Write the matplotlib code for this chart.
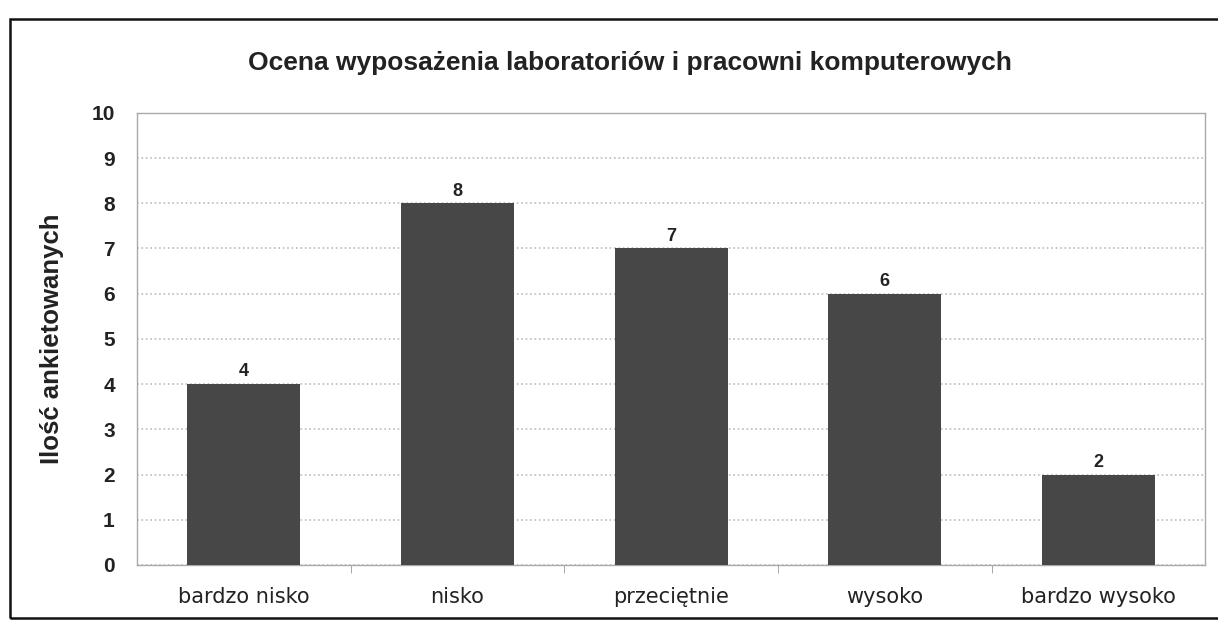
import matplotlib.pyplot as plt
from matplotlib.patches import Rectangle

categories = ["bardzo nisko", "nisko", "przeciętnie", "wysoko", "bardzo wysoko"]
counts = [4, 8, 7, 6, 2]

title = "Ocena wyposażenia laboratoriów i pracowni komputerowych"
ylabel = "Ilość ankietowanych"

narrow = ["Liberation Sans Narrow", "Liberation Sans", "DejaVu Sans"]

fig = plt.figure(figsize=(12.18, 6.27), dpi=100)
ax = fig.add_axes([0.1125, 0.099, 0.877, 0.721])

x = range(len(categories))
bars = ax.bar(x, counts, width=0.53, color="#474747", zorder=3)

for b, v in zip(bars, counts):
    ax.text(b.get_x() + b.get_width() / 2, v + 0.08, str(v), ha="center", va="bottom",
            fontsize=13, fontweight="bold", family=narrow, color="#222222")

ax.set_xlim(-0.5, len(categories) - 0.5)
ax.set_ylim(0, 10)
ax.set_yticks(range(0, 11))
ax.set_yticklabels([str(i) for i in range(0, 11)], fontsize=15, fontweight="bold",
                   family=narrow, color="#222222")
ax.set_xticks(list(x))
ax.set_xticklabels(categories, fontsize=15, family=["Verdana", "DejaVu Sans"], color="#222222")
ax.tick_params(axis="x", length=0, pad=16)
ax.tick_params(axis="y", length=0, pad=16)

# category boundary ticks
ax.set_xticks([i + 0.5 for i in range(len(categories) - 1)], minor=True)
ax.tick_params(axis="x", which="minor", length=6, color="#999999")

ax.grid(axis="y", color="#bbbbbb", linestyle=":", linewidth=1.2, zorder=0)
for s in ax.spines.values():
    s.set_color("#aaaaaa")
    s.set_linewidth(1.0)

ax.set_ylabel(ylabel, fontsize=18.5, fontweight="bold", family=narrow, labelpad=20, color="#222222")
fig.text(0.517, 0.9, title, ha="center", va="center", fontsize=19, fontweight="bold",
         family=narrow, color="#222222")

# outer frame of the pasted chart
fig.patches.append(Rectangle((0.008, 0.015), 1.2, 0.955, transform=fig.transFigure,
                             fill=False, edgecolor="#111111", linewidth=1.8))

fig.savefig("out.png", dpi=100)
